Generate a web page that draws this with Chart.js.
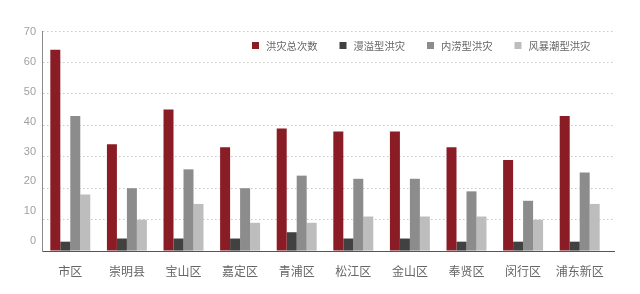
<!DOCTYPE html>
<html>
<head>
<meta charset="utf-8">
<script src="https://cdn.jsdelivr.net/npm/chart.js@4/dist/chart.umd.min.js"></script>
<style>
  html, body { margin: 0; padding: 0; background: #fff; }
  #wrap { width: 640px; height: 294px; position: relative; }
</style>
</head>
<body>
<div id="wrap"><canvas id="c" width="640" height="294"></canvas></div>
<script>
// 上海各区县洪灾次数统计
const districts = ['市区', '崇明县', '宝山区', '嘉定区', '青浦区', '松江区', '金山区', '奉贤区', '闵行区', '浦东新区'];
const totalFloods = [64, 34, 45, 33, 39, 38, 38, 33, 29, 43];
const overflowFloods = [3, 4, 4, 4, 6, 4, 4, 3, 3, 3];
const waterloggingFloods = [43, 20, 26, 20, 24, 23, 23, 19, 16, 25];
const stormSurgeFloods = [18, 10, 15, 9, 9, 11, 11, 11, 10, 15];
const yTicks = [0, 10, 20, 30, 40, 50, 60, 70];

const seriesNames = ['洪灾总次数', '漫溢型洪灾', '内涝型洪灾', '风暴潮型洪灾'];
const seriesColors = ['#8a1c25', '#414141', '#8c8c8c', '#bdbdbd'];
const seriesValues = [totalFloods, overflowFloods, waterloggingFloods, stormSurgeFloods];

// Categories occupy a slightly narrower band than the gridlines.
const categoryBand = 566;

const narrowXBand = {
  id: 'narrowXBand',
  afterLayout(chart) {
    const xs = chart.scales.x;
    xs.right = xs.left + categoryBand;
    xs.width = categoryBand;
    xs.configure();
  }
};

// Legend drawn inside the plot area, top right.
const innerLegend = {
  id: 'innerLegend',
  afterDraw(chart) {
    const { ctx, chartArea } = chart;
    const x0 = chartArea.right - 363;
    const yc = chartArea.top + 14.5;
    const step = 87.5;
    ctx.save();
    ctx.font = '10.3px "Noto Sans CJK SC", sans-serif';
    ctx.textBaseline = 'middle';
    ctx.textAlign = 'left';
    chart.data.datasets.forEach((ds, i) => {
      const x = x0 + i * step;
      ctx.fillStyle = ds.backgroundColor;
      ctx.fillRect(x, yc - 3.5, 7, 7);
      ctx.fillStyle = '#666';
      ctx.fillText(ds.label, x + 14, yc + 0.5);
    });
    ctx.restore();
  }
};

new Chart(document.getElementById('c'), {
  type: 'bar',
  data: {
    labels: districts,
    datasets: seriesNames.map((name, i) => ({
      label: name,
      data: seriesValues[i],
      backgroundColor: seriesColors[i],
      borderWidth: 0,
      barPercentage: 1,
      categoryPercentage: 0.706
    }))
  },
  options: {
    responsive: false,
    animation: false,
    devicePixelRatio: 1,
    layout: { padding: { left: 0, right: 25, top: 31, bottom: 2.5 } },
    plugins: {
      legend: { display: false },
      tooltip: { enabled: false }
    },
    scales: {
      x: {
        grid: { display: false, drawTicks: false },
        border: { display: false },
        ticks: {
          padding: 13,
          color: '#666',
          font: { family: '"Noto Sans CJK SC", sans-serif', size: 12 },
          maxRotation: 0,
          autoSkip: false
        }
      },
      // value axis: gridlines and the vertical axis line
      y: {
        min: 0,
        max: 70,
        weight: 0,
        afterFit(s) { s.width = 0; },
        afterBuildTicks(s) { s.ticks = yTicks.map(v => ({ value: v })); },
        grid: {
          drawTicks: false,
          lineWidth: 1,
          color: ctx => ctx.tick && ctx.tick.value === 0 ? '#555' : '#c8c8c8'
        },
        border: {
          display: true,
          color: '#8a8a8a',
          width: 1,
          dash: ctx => ctx.tick && ctx.tick.value === 0 ? [] : [1.5, 2.5]
        },
        ticks: { display: false }
      },
      // tick numbers, set slightly tighter than the gridlines
      yLabels: {
        type: 'linear',
        position: 'left',
        display: true,
        weight: 1,
        min: -3.35,
        max: 70.33,
        afterFit(s) { s.width = 42; },
        afterBuildTicks(s) { s.ticks = yTicks.map(v => ({ value: v })); },
        grid: { display: false, drawTicks: false },
        border: { display: false },
        ticks: {
          padding: 6,
          color: '#a0a0a0',
          font: { family: '"Liberation Sans", sans-serif', size: 11 }
        }
      }
    }
  },
  plugins: [narrowXBand, innerLegend]
});
</script>
</body>
</html>
